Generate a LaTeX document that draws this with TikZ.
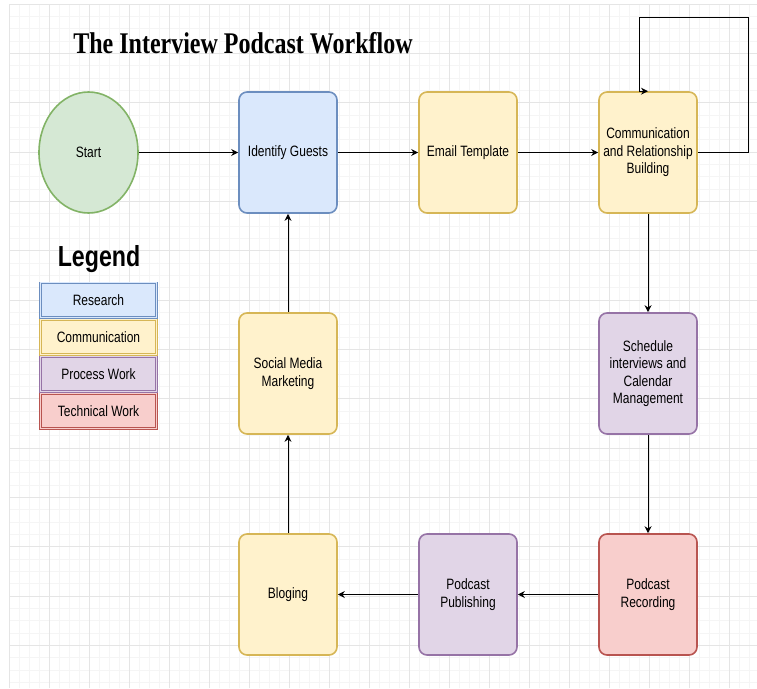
\documentclass[tikz,border=0pt]{standalone}
\usepackage{fontspec}
\usepackage{tikz}
\setmainfont{Liberation Serif}
\newfontfamily\boxfont{Liberation Sans}[FakeStretch=0.8]
\newfontfamily\titlefont{Liberation Serif}[FakeStretch=0.8]
\usetikzlibrary{shapes.geometric,arrows.meta}
\definecolor{greenfill}{HTML}{D5E8D4}
\definecolor{greendraw}{HTML}{82B366}
\definecolor{bluefill}{HTML}{DAE8FC}
\definecolor{bluedraw}{HTML}{6C8EBF}
\definecolor{yellowfill}{HTML}{FFF2CC}
\definecolor{yellowdraw}{HTML}{D6B656}
\definecolor{purplefill}{HTML}{E1D5E7}
\definecolor{purpledraw}{HTML}{9673A6}
\definecolor{redfill}{HTML}{F8CECC}
\definecolor{reddraw}{HTML}{B85450}

\begin{document}
\begin{tikzpicture}[x=1pt,y=-1pt]
\tikzstyle{every node}+=[inner sep=0pt]
\tikzstyle{gridminor}=[draw=gray!8, line width=0.6pt]
\tikzstyle{gridmajor}=[draw=gray!20, line width=0.8pt]
\tikzstyle{task}=[draw, rounded corners=8pt, line width=1.6pt, minimum width=98pt, minimum height=121pt, align=center, font=\boxfont\fontsize{15}{17.5}\selectfont]
\tikzstyle{key}=[draw, double distance=1.2pt, line width=0.7pt, minimum width=116pt, minimum height=34.4pt, font=\boxfont\fontsize{15}{17.5}\selectfont]
\tikzstyle{arr}=[-{Stealth[length=7pt,width=7pt]}, line width=0.9pt]
\useasboundingbox (0,0) rectangle (757,688);
% grid
\begin{scope}
\clip (9,4) rectangle (757,688);
\foreach \i in {0,...,75} \draw[gridminor] (9+10*\i,4) -- (9+10*\i,688);
\foreach \j in {0,...,55} \draw[gridminor] (9,4+12.333*\j) -- (757,4+12.333*\j);
\foreach \i in {0,...,18} \draw[gridmajor] (9+40*\i,4) -- (9+40*\i,688);
\foreach \j in {0,...,13} \draw[gridmajor] (9,4+49.333*\j) -- (757,4+49.333*\j);
\end{scope}
% title
\node[anchor=base, font=\titlefont\bfseries\fontsize{30}{30}\selectfont] (title) at (243,53) {The Interview Podcast Workflow};
% steps
\node[ellipse, draw=greendraw, fill=greenfill, line width=1.6pt, minimum width=99pt, minimum height=121pt, font=\boxfont\fontsize{15}{17.5}\selectfont] (start) at (88.5,152.5) {Start};
\node[task, draw=bluedraw, fill=bluefill] (guests) at (288,152.5) {Identify Guests};
\node[task, draw=yellowdraw, fill=yellowfill] (email) at (468,152.5) {Email Template};
\node[task, draw=yellowdraw, fill=yellowfill] (comm) at (648,152.5) {Communication\\and Relationship\\Building};
\node[task, draw=purpledraw, fill=purplefill] (sched) at (648,373.5) {Schedule\\interviews and\\Calendar\\Management};
\node[task, draw=reddraw, fill=redfill] (record) at (648,594.5) {Podcast\\Recording};
\node[task, draw=purpledraw, fill=purplefill] (publish) at (468,594.5) {Podcast\\Publishing};
\node[task, draw=yellowdraw, fill=yellowfill] (blog) at (288,594.5) {Bloging};
\node[task, draw=yellowdraw, fill=yellowfill] (social) at (288,373.5) {Social Media\\Marketing};
% legend
\node[anchor=base, font=\boxfont\bfseries\fontsize{29}{29}\selectfont] (legend) at (99,266) {Legend};
\node[key, draw=bluedraw, fill=bluefill, double=bluefill] (kresearch) at (98.5,300) {Research};
\node[key, draw=yellowdraw, fill=yellowfill, double=yellowfill] (kcomm) at (98.5,337) {Communication};
\node[key, draw=purpledraw, fill=purplefill, double=purplefill] (kprocess) at (98.5,374) {Process Work};
\node[key, draw=reddraw, fill=redfill, double=redfill] (ktech) at (98.5,411) {Technical Work};
% connectors
\coordinate (loopr) at (748,17);
\coordinate (loopl) at (639,17);
\draw[arr] (start) -- (guests);
\draw[arr] (guests) -- (email);
\draw[arr] (email) -- (comm);
\draw[arr] (comm.east) -| (loopr) -- (loopl) -- (loopl |- comm.north) -- (comm.north);
\draw[arr] (comm) -- (sched);
\draw[arr] (sched) -- (record);
\draw[arr] (record) -- (publish);
\draw[arr] (publish) -- (blog);
\draw[arr] (blog) -- (social);
\draw[arr] (social) -- (guests);
\end{tikzpicture}
\end{document}
